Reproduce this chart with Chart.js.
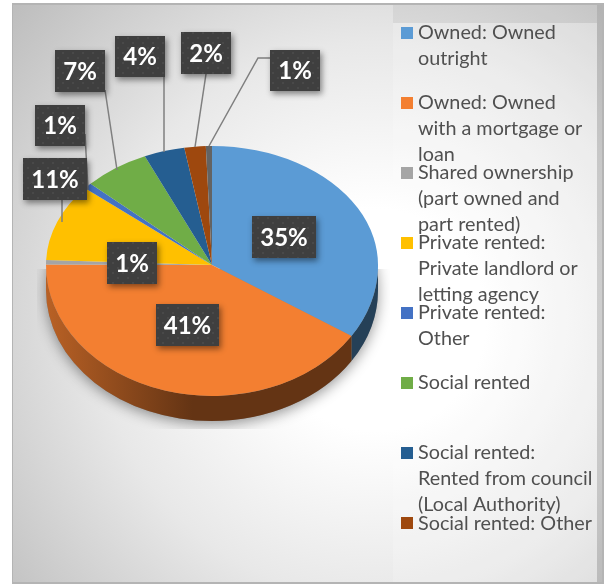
<!DOCTYPE html>
<html>
<head>
<meta charset="utf-8">
<style>
html,body{margin:0;padding:0;background:#fff;}
#wrap{position:relative;width:613px;height:585px;}
canvas{display:block;}
</style>
<script src="https://cdn.jsdelivr.net/npm/chart.js@4"></script>
</head>
<body>
<div id="wrap"><canvas id="c" width="613" height="585"></canvas></div>
<script>
const categories = [
  "Owned: Owned outright",
  "Owned: Owned with a mortgage or loan",
  "Shared ownership (part owned and part rented)",
  "Private rented: Private landlord or letting agency",
  "Private rented: Other",
  "Social rented",
  "Social rented: Rented from council (Local Authority)",
  "Social rented: Other"
];
const legendLines = [
  ["Owned: Owned","outright"],
  ["Owned: Owned","with a mortgage or","loan"],
  ["Shared ownership","(part owned and","part rented)"],
  ["Private rented:","Private landlord or","letting agency"],
  ["Private rented:","Other"],
  ["Social rented"],
  ["Social rented:","Rented from council","(Local Authority)"],
  ["Social rented: Other"]
];
// The reference has nine slices: a thin unlisted grey slice closes the circle at 12 o'clock.
const sliceNames = categories.concat(["Other"]);
// Slice sizes estimated from the picture's angles; they round to the printed labels.
const values = [34.5,41.4,0.6,10.6,0.8,6.5,4,2.1,0.6];
const colours = ["#5b9bd5","#f37f31","#a5a5a5","#ffc000","#4472c4","#70ad47","#255e91","#9e480e","#636363"];

// Label box layout: [left, top, width, height] and the leader line points, per slice
const labelBoxes = [
  [252,216,64,42],[156,304,63,42],[107,242,50,42],[23,158,64,42],
  [35,105,50,41],[55,50,50,42],[115,36,50,41],[181,32,50,42],[270,50,50,41]
];
const leaders = [
  null,null,null,
  [[62,200],[62,222]],
  [[85,134],[88,190]],
  [[105,90],[117,170]],
  [[164,77],[164,152]],
  [[206,74],[195,147]],
  [[270,58],[258,58],[209,146]]
];

const TOP_Y = 119/166, BOT_Y = 131/166, DEPTH = 25;

function shade(hex,f){
  const n=parseInt(hex.slice(1),16);
  return `rgb(${Math.round((n>>16&255)*f)},${Math.round((n>>8&255)*f)},${Math.round((n&255)*f)})`;
}
function dotPattern(ctx){
  const p=document.createElement('canvas');p.width=p.height=10;
  const g=p.getContext('2d');
  g.fillStyle='#3f3f3f';g.fillRect(0,0,10,10);
  g.fillStyle='#494949';g.fillRect(2,2,2,2);g.fillRect(7,7,2,2);
  return ctx.createPattern(p,'repeat');
}

const backdrop = {
  id:'backdrop',
  beforeDraw(chart){
    const c=chart.ctx;
    c.save();
    c.fillStyle='#fff';c.fillRect(0,0,613,585);
    c.fillStyle='#b4b4b4';c.fillRect(12,3,592,581);
    const g=c.createRadialGradient(375,320,30,375,320,480);
    g.addColorStop(0,'#ffffff');g.addColorStop(0.18,'#ffffff');
    g.addColorStop(0.55,'#e8e8e8');g.addColorStop(1,'#bdbdbd');
    c.fillStyle=g;c.fillRect(13,5,589,577);
    // darker strips around the legend panel
    c.fillStyle='rgba(0,0,0,0.14)';c.fillRect(597,5,5,577);
    c.fillStyle='rgba(0,0,0,0.05)';c.fillRect(393,5,204,18);
    // legend panel
    c.fillStyle='rgba(255,255,255,0.18)';
    c.fillRect(393,23,204,559);
    c.restore();
  }
};

const pie3d = {
  id:'pie3d',
  beforeDatasetDraw(chart){
    const c=chart.ctx, meta=chart.getDatasetMeta(0), a0=meta.data[0];
    const x=a0.x,y=a0.y,r=a0.outerRadius;
    // soft shadow
    c.save();
    c.beginPath();c.rect(37,y+4,353,429-y-4);c.clip();
    c.shadowColor='rgba(0,0,0,0.42)';c.shadowBlur=14;c.shadowOffsetY=3;
    c.fillStyle='#888';
    c.beginPath();c.ellipse(x,y+DEPTH,r,r*BOT_Y,0,0,Math.PI*2);c.fill();
    c.restore();
    // side wall, drawn from the arc geometry the library computed
    c.save();
    meta.data.forEach((a,i)=>{
      const s=Math.max(a.startAngle,0), e=Math.min(a.endAngle,Math.PI);
      const s2=a.startAngle<Math.PI?s:Math.max(a.startAngle-2*Math.PI,0);
      const e2=a.startAngle<Math.PI?e:Math.min(a.endAngle-2*Math.PI,Math.PI);
      if(e2<=s2) return;
      const g=c.createLinearGradient(x-r,0,x+r,0);
      g.addColorStop(0,shade(colours[i],0.76));
      g.addColorStop(0.44,shade(colours[i],0.41));
      g.addColorStop(1,shade(colours[i],0.41));
      c.fillStyle=g;
      c.beginPath();
      c.ellipse(x,y,r,r*BOT_Y,0,s2,e2);
      c.ellipse(x,y+DEPTH,r,r*BOT_Y,0,e2,s2,true);
      c.closePath();c.fill();
    });
    c.restore();
    // top half of the face
    c.save();
    c.beginPath();c.rect(0,0,613,y);c.clip();
    c.translate(x,y);c.scale(1,TOP_Y);c.translate(-x,-y);
  },
  afterDatasetDraw(chart){
    const c=chart.ctx, meta=chart.getDatasetMeta(0), a0=meta.data[0];
    const x=a0.x,y=a0.y;
    c.restore();
    // bottom half of the face
    c.save();
    c.beginPath();c.rect(0,y,613,585-y);c.clip();
    c.translate(x,y);c.scale(1,BOT_Y);c.translate(-x,-y);
    meta.controller.draw();
    c.restore();
  }
};

const annotations = {
  id:'annotations',
  afterDraw(chart){
    const c=chart.ctx, pat=dotPattern(c);
    c.save();
    // leaders
    c.strokeStyle='#7f7f7f';c.lineWidth=1.5;
    leaders.forEach(l=>{
      if(!l) return;
      c.beginPath();
      l.forEach((p,i)=>i?c.lineTo(p[0],p[1]):c.moveTo(p[0],p[1]));
      c.stroke();
    });
    // boxes
    labelBoxes.forEach((b,i)=>{
      c.save();
      c.shadowColor='rgba(0,0,0,0.45)';c.shadowBlur=6;c.shadowOffsetX=2;c.shadowOffsetY=3;
      c.fillStyle='#3f3f3f';c.fillRect(b[0],b[1],b[2],b[3]);
      c.restore();
      c.fillStyle=pat;c.fillRect(b[0],b[1],b[2],b[3]);
      c.fillStyle='#fff';
      c.font='bold 24px Lato, "Open Sans", sans-serif';
      c.textAlign='center';c.textBaseline='middle';
      c.fillText(Math.round(values[i])+'%',b[0]+b[2]/2,b[1]+b[3]/2+1);
    });
    // legend
    c.font='19.8px Lato, "Open Sans", sans-serif';
    c.textAlign='left';c.textBaseline='middle';
    legendLines.forEach((lines,i)=>{
      const cy=32.5+70.1*i;
      c.fillStyle=colours[i];c.fillRect(401,Math.round(cy-6),12,12);
      c.fillStyle='#505050';
      lines.forEach((t,j)=>c.fillText(t,418,cy+j*26));
    });
    c.restore();
  }
};

new Chart(document.getElementById('c'),{
  type:'pie',
  data:{labels:sliceNames,datasets:[{data:values,backgroundColor:colours,borderWidth:0,clip:false}]},
  options:{
    responsive:false,animation:false,
    layout:{padding:{left:46,right:235,top:99,bottom:154}},
    plugins:{legend:{display:false},tooltip:{enabled:false},title:{display:false}}
  },
  plugins:[backdrop,pie3d,annotations]
});
</script>
</body>
</html>
